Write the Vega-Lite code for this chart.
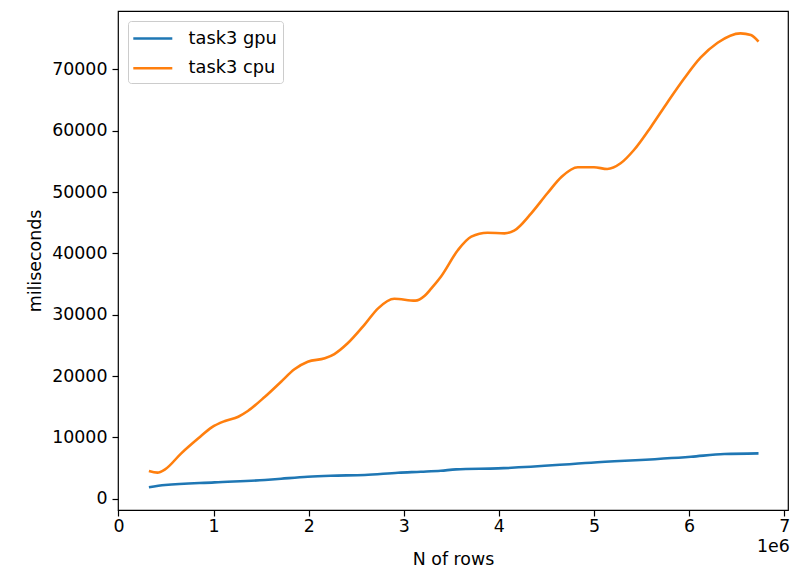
{
  "$schema": "https://vega.github.io/schema/vega-lite/v6.json",
  "width": 670,
  "height": 499,
  "autosize": {"type": "none"},
  "padding": {"left": 118, "top": 11, "right": 6, "bottom": 59},
  "background": "white",
  "title": {"text": "1e6", "orient": "bottom", "anchor": "end", "offset": -30, "fontSize": 17.4, "fontWeight": "normal", "font": "DejaVu Sans", "color": "#000"},
  "data": {"values": [
    {"rows": 320000, "ms": 1860, "series": "task3 gpu"},
    {"rows": 490000, "ms": 2230, "series": "task3 gpu"},
    {"rows": 1010000, "ms": 2670, "series": "task3 gpu"},
    {"rows": 1540000, "ms": 3050, "series": "task3 gpu"},
    {"rows": 1710000, "ms": 3260, "series": "task3 gpu"},
    {"rows": 1990000, "ms": 3590, "series": "task3 gpu"},
    {"rows": 2230000, "ms": 3750, "series": "task3 gpu"},
    {"rows": 2590000, "ms": 3860, "series": "task3 gpu"},
    {"rows": 2940000, "ms": 4240, "series": "task3 gpu"},
    {"rows": 3180000, "ms": 4400, "series": "task3 gpu"},
    {"rows": 3390000, "ms": 4560, "series": "task3 gpu"},
    {"rows": 3550000, "ms": 4790, "series": "task3 gpu"},
    {"rows": 3990000, "ms": 4950, "series": "task3 gpu"},
    {"rows": 4970000, "ms": 5870, "series": "task3 gpu"},
    {"rows": 6020000, "ms": 6850, "series": "task3 gpu"},
    {"rows": 6370000, "ms": 7290, "series": "task3 gpu"},
    {"rows": 6730000, "ms": 7400, "series": "task3 gpu"},
    {"rows": 320000, "ms": 4520, "series": "task3 cpu"},
    {"rows": 410000, "ms": 4250, "series": "task3 cpu"},
    {"rows": 490000, "ms": 4790, "series": "task3 cpu"},
    {"rows": 660000, "ms": 7400, "series": "task3 cpu"},
    {"rows": 840000, "ms": 9850, "series": "task3 cpu"},
    {"rows": 980000, "ms": 11640, "series": "task3 cpu"},
    {"rows": 1120000, "ms": 12670, "series": "task3 cpu"},
    {"rows": 1260000, "ms": 13370, "series": "task3 cpu"},
    {"rows": 1360000, "ms": 14300, "series": "task3 cpu"},
    {"rows": 1540000, "ms": 16630, "series": "task3 cpu"},
    {"rows": 1710000, "ms": 19080, "series": "task3 cpu"},
    {"rows": 1850000, "ms": 21100, "series": "task3 cpu"},
    {"rows": 1990000, "ms": 22340, "series": "task3 cpu"},
    {"rows": 2170000, "ms": 22890, "series": "task3 cpu"},
    {"rows": 2270000, "ms": 23590, "series": "task3 cpu"},
    {"rows": 2410000, "ms": 25340, "series": "task3 cpu"},
    {"rows": 2590000, "ms": 28430, "series": "task3 cpu"},
    {"rows": 2730000, "ms": 31040, "series": "task3 cpu"},
    {"rows": 2900000, "ms": 32600, "series": "task3 cpu"},
    {"rows": 3120000, "ms": 32300, "series": "task3 cpu"},
    {"rows": 3220000, "ms": 33100, "series": "task3 cpu"},
    {"rows": 3290000, "ms": 34300, "series": "task3 cpu"},
    {"rows": 3390000, "ms": 36200, "series": "task3 cpu"},
    {"rows": 3570000, "ms": 40550, "series": "task3 cpu"},
    {"rows": 3710000, "ms": 42720, "series": "task3 cpu"},
    {"rows": 3880000, "ms": 43370, "series": "task3 cpu"},
    {"rows": 4060000, "ms": 43270, "series": "task3 cpu"},
    {"rows": 4160000, "ms": 43700, "series": "task3 cpu"},
    {"rows": 4340000, "ms": 46530, "series": "task3 cpu"},
    {"rows": 4510000, "ms": 49800, "series": "task3 cpu"},
    {"rows": 4660000, "ms": 52500, "series": "task3 cpu"},
    {"rows": 4830000, "ms": 54040, "series": "task3 cpu"},
    {"rows": 5000000, "ms": 54040, "series": "task3 cpu"},
    {"rows": 5140000, "ms": 53760, "series": "task3 cpu"},
    {"rows": 5280000, "ms": 54690, "series": "task3 cpu"},
    {"rows": 5420000, "ms": 56860, "series": "task3 cpu"},
    {"rows": 5600000, "ms": 60660, "series": "task3 cpu"},
    {"rows": 5770000, "ms": 64570, "series": "task3 cpu"},
    {"rows": 5950000, "ms": 68550, "series": "task3 cpu"},
    {"rows": 6120000, "ms": 71900, "series": "task3 cpu"},
    {"rows": 6300000, "ms": 74350, "series": "task3 cpu"},
    {"rows": 6540000, "ms": 75880, "series": "task3 cpu"},
    {"rows": 6650000, "ms": 75600, "series": "task3 cpu"},
    {"rows": 6730000, "ms": 74520, "series": "task3 cpu"}
  ]},
  "mark": {"type": "line", "interpolate": "monotone", "strokeWidth": 2.6, "strokeCap": "butt"},
  "encoding": {
    "x": {
      "field": "rows", "type": "quantitative",
      "scale": {"domain": [-5000, 7040000], "nice": false, "zero": false},
      "axis": {"title": "N of rows", "values": [0, 1000000, 2000000, 3000000, 4000000, 5000000, 6000000, 7000000], "labelExpr": "format(datum.value / 1000000, 'd')", "labelFlush": false, "labelPadding": 1, "titlePadding": 16}
    },
    "y": {
      "field": "ms", "type": "quantitative",
      "scale": {"domain": [-1840, 79520], "nice": false, "zero": false},
      "axis": {"title": "miliseconds", "values": [0, 10000, 20000, 30000, 40000, 50000, 60000, 70000], "format": "d", "titlePadding": 7}
    },
    "color": {
      "field": "series", "type": "nominal",
      "scale": {"domain": ["task3 gpu", "task3 cpu"], "range": ["#1f77b4", "#ff7f0e"]},
      "legend": {
        "title": null, "orient": "top-left", "offset": 9.5, "padding": 6, "rowPadding": 8.7,
        "symbolType": "M-1.22,0L2.68,0", "symbolSize": 400, "symbolStrokeWidth": 2.6,
        "labelFontSize": 17.8, "labelFont": "DejaVu Sans", "labelColor": "#000", "labelOffset": 31.6,
        "fillColor": "rgba(255,255,255,0.8)", "strokeColor": "#cccccc", "cornerRadius": 3
      }
    }
  },
  "config": {
    "view": {"stroke": "#000", "strokeWidth": 1.2},
    "axis": {
      "grid": false, "domain": false,
      "labelFont": "DejaVu Sans", "labelFontSize": 17.4, "labelColor": "#000",
      "titleFont": "DejaVu Sans", "titleFontSize": 17.4, "titleFontWeight": "normal", "titleColor": "#000",
      "tickColor": "#000", "tickWidth": 1.2, "tickSize": 6, "labelPadding": 5
    }
  }
}
